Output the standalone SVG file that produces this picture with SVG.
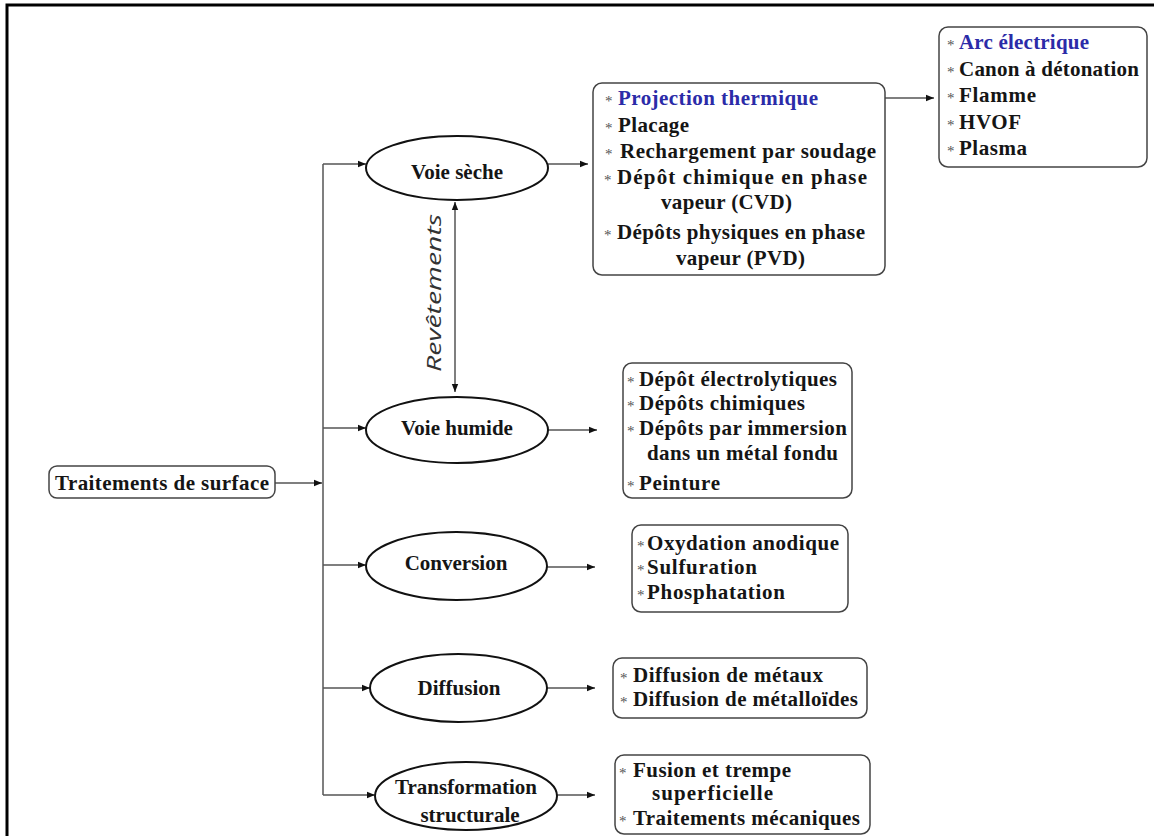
<svg xmlns="http://www.w3.org/2000/svg" width="1154" height="836" viewBox="0 0 1154 836">
<style>
.t{font-family:"Liberation Serif","Times New Roman",serif;font-weight:bold;font-size:21px;fill:#151515}
.b{fill:#2b2ba8}
.ast{font-family:"Liberation Serif",serif;font-size:15px;fill:#555}
.c{text-anchor:middle}
.box{fill:#fff;stroke:#444;stroke-width:1.5}
.ell{fill:#fff;stroke:#111;stroke-width:2}
.ln{fill:none;stroke:#555;stroke-width:1.5}
.rv{font-family:"Open Sans","DejaVu Sans",sans-serif;font-style:italic;font-size:20px;fill:#333}
</style>
<defs>
<marker id="ah" viewBox="0 0 10 10" refX="10" refY="5" markerWidth="8" markerHeight="8" markerUnits="userSpaceOnUse" orient="auto-start-reverse">
<path d="M0,1 L10,5 L0,9 z" fill="#111"/>
</marker>
</defs>
<rect width="1154" height="836" fill="#fff"/>
<path d="M7,836 V5 H1154" fill="none" stroke="#000" stroke-width="3"/>

<g id="connectors">
<line class="ln" x1="275" y1="483" x2="322" y2="483" marker-end="url(#ah)"/>
<line class="ln" x1="323" y1="164" x2="323" y2="795"/>
<line class="ln" x1="323" y1="164" x2="366" y2="164" marker-end="url(#ah)"/>
<line class="ln" x1="323" y1="428" x2="366" y2="428" marker-end="url(#ah)"/>
<line class="ln" x1="323" y1="565" x2="366" y2="565" marker-end="url(#ah)"/>
<line class="ln" x1="323" y1="688" x2="370" y2="688" marker-end="url(#ah)"/>
<line class="ln" x1="323" y1="795" x2="375" y2="795" marker-end="url(#ah)"/>
<line class="ln" x1="548" y1="164" x2="588" y2="164" marker-end="url(#ah)"/>
<line class="ln" x1="548" y1="430" x2="597" y2="430" marker-end="url(#ah)"/>
<line class="ln" x1="547" y1="567" x2="595" y2="567" marker-end="url(#ah)"/>
<line class="ln" x1="547" y1="688" x2="595" y2="688" marker-end="url(#ah)"/>
<line class="ln" x1="557" y1="795" x2="595" y2="795" marker-end="url(#ah)"/>
<line class="ln" x1="824" y1="98" x2="934" y2="98" marker-end="url(#ah)"/>
<line class="ln" x1="455" y1="202" x2="455" y2="392" marker-start="url(#ah)" marker-end="url(#ah)"/>
<text class="rv c" transform="translate(441,293) rotate(-90)" textLength="158" lengthAdjust="spacingAndGlyphs">Revêtements</text>
</g>

<g id="traitements">
<rect class="box" x="49" y="466" width="226" height="32" rx="8"/>
<text class="t" x="55" y="490" textLength="214">Traitements de surface</text>
</g>

<g id="voie-seche">
<ellipse class="ell" cx="457" cy="168" rx="91" ry="32"/>
<text class="t c" x="457" y="179">Voie sèche</text>
</g>
<g id="voie-humide">
<ellipse class="ell" cx="457" cy="430" rx="91" ry="33"/>
<text class="t c" x="457" y="435">Voie humide</text>
</g>
<g id="conversion">
<ellipse class="ell" cx="456.5" cy="566" rx="90.5" ry="34"/>
<text class="t c" x="456" y="570">Conversion</text>
</g>
<g id="diffusion">
<ellipse class="ell" cx="458.5" cy="688" rx="88.5" ry="34"/>
<text class="t c" x="459" y="695">Diffusion</text>
</g>
<g id="transformation">
<ellipse class="ell" cx="466" cy="796" rx="91" ry="34"/>
<text class="t c" x="466" y="794">Transformation</text>
<text class="t c" x="470" y="822">structurale</text>
</g>

<g id="box-seche">
<rect class="box" x="593" y="83" width="292" height="192" rx="9"/>
<text class="ast" x="605" y="106">*</text>
<text class="t b" x="618" y="105" textLength="200">Projection thermique</text>
<text class="ast" x="605" y="133">*</text>
<text class="t" x="618" y="132" textLength="71">Placage</text>
<text class="ast" x="605" y="159">*</text>
<text class="t" x="620" y="158" textLength="256">Rechargement par soudage</text>
<text class="ast" x="604" y="185">*</text>
<text class="t" x="617" y="184" textLength="250">Dépôt chimique en phase</text>
<text class="t" x="661" y="209" textLength="131">vapeur (CVD)</text>
<text class="ast" x="604" y="240">*</text>
<text class="t" x="617" y="239" textLength="248">Dépôts physiques en phase</text>
<text class="t" x="676" y="265" textLength="129">vapeur (PVD)</text>
</g>

<g id="box-projection">
<rect class="box" x="939" y="27" width="208" height="140" rx="9"/>
<text class="ast" x="947" y="50">*</text>
<text class="t b" x="959" y="49" textLength="130">Arc électrique</text>
<text class="ast" x="947" y="77">*</text>
<text class="t" x="959" y="76" textLength="180">Canon à détonation</text>
<text class="ast" x="947" y="103">*</text>
<text class="t" x="959" y="102" textLength="77">Flamme</text>
<text class="ast" x="947" y="130">*</text>
<text class="t" x="959" y="129" textLength="62">HVOF</text>
<text class="ast" x="947" y="156">*</text>
<text class="t" x="959" y="155" textLength="68">Plasma</text>
</g>

<g id="box-humide">
<rect class="box" x="623" y="363" width="229" height="135" rx="9"/>
<text class="ast" x="627" y="387">*</text>
<text class="t" x="639" y="386" textLength="198">Dépôt électrolytiques</text>
<text class="ast" x="627" y="411">*</text>
<text class="t" x="639" y="410" textLength="166">Dépôts chimiques</text>
<text class="ast" x="627" y="436">*</text>
<text class="t" x="639" y="435" textLength="208">Dépôts par immersion</text>
<text class="t" x="647" y="460" textLength="191">dans un métal fondu</text>
<text class="ast" x="627" y="491">*</text>
<text class="t" x="639" y="490" textLength="81">Peinture</text>
</g>

<g id="box-conversion">
<rect class="box" x="632" y="525" width="216" height="87" rx="9"/>
<text class="ast" x="637" y="551">*</text>
<text class="t" x="647" y="550" textLength="192">Oxydation anodique</text>
<text class="ast" x="637" y="575">*</text>
<text class="t" x="647" y="574" textLength="110">Sulfuration</text>
<text class="ast" x="637" y="600">*</text>
<text class="t" x="647" y="599" textLength="138">Phosphatation</text>
</g>

<g id="box-diffusion">
<rect class="box" x="613" y="658" width="254" height="60" rx="9"/>
<text class="ast" x="620" y="683">*</text>
<text class="t" x="633" y="682" textLength="190">Diffusion de métaux</text>
<text class="ast" x="620" y="707">*</text>
<text class="t" x="633" y="706" textLength="225">Diffusion de métalloïdes</text>
</g>

<g id="box-transformation">
<rect class="box" x="615" y="755" width="255" height="79" rx="9"/>
<text class="ast" x="619" y="778">*</text>
<text class="t" x="633" y="777" textLength="158">Fusion et trempe</text>
<text class="t" x="652" y="800" textLength="121">superficielle</text>
<text class="ast" x="619" y="826">*</text>
<text class="t" x="633" y="825" textLength="227">Traitements mécaniques</text>
</g>
</svg>
